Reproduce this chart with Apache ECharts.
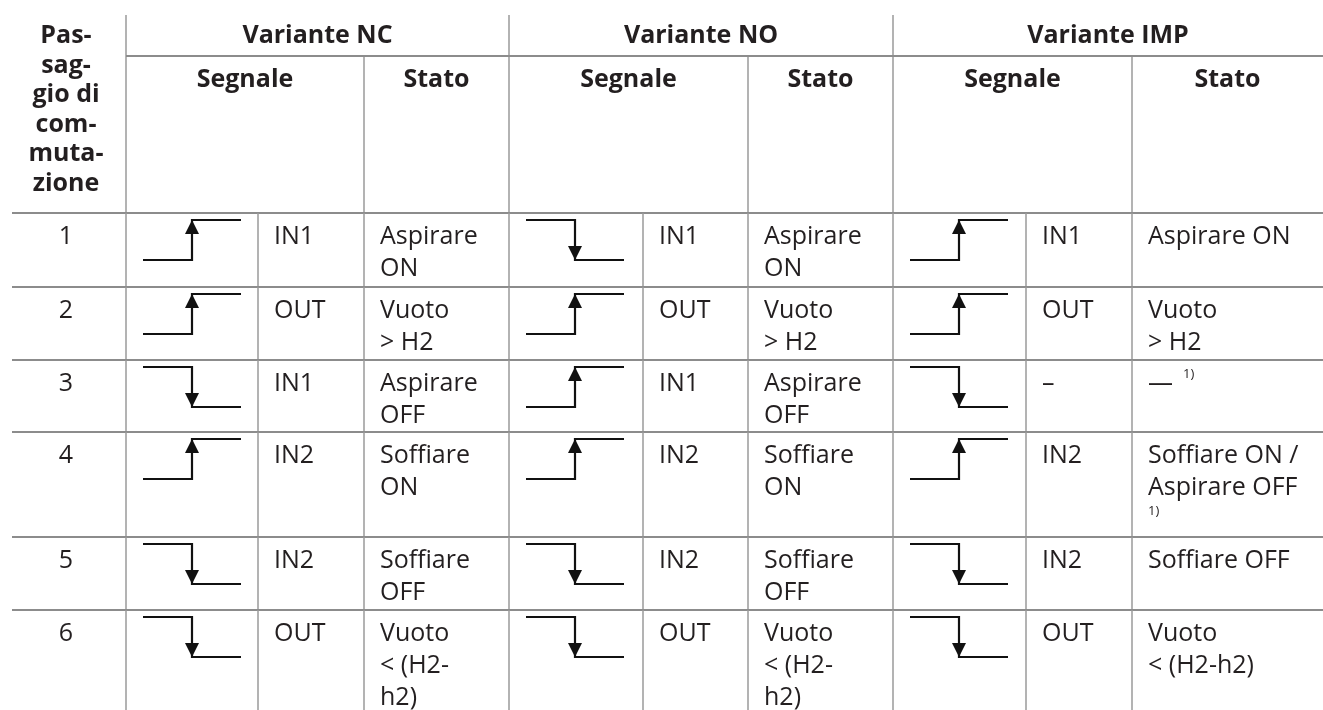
<!DOCTYPE html>
<html><head><meta charset="utf-8">
<script src="https://cdn.jsdelivr.net/npm/echarts@6/dist/echarts.min.js"></script>
<style>html,body{margin:0;padding:0;background:#fff}#c{width:1323px;height:710px}</style>
</head><body><div id="c"></div>
<script>
// ---------- data ----------
const steps = ['1', '2', '3', '4', '5', '6'];
const stepHeader = 'Pas-\nsag-\ngio di\ncom-\nmuta-\nzione';
const variants = ['Variante NC', 'Variante NO', 'Variante IMP'];
const subHeaders = ['Segnale', 'Stato'];
const ncSignal = ['rise', 'rise', 'fall', 'rise', 'fall', 'fall'];
const ncInput = ['IN1', 'OUT', 'IN1', 'IN2', 'IN2', 'OUT'];
const ncState = ['Aspirare\nON', 'Vuoto\n> H2', 'Aspirare\nOFF', 'Soffiare\nON', 'Soffiare\nOFF', 'Vuoto\n< (H2-\nh2)'];
const noSignal = ['fall', 'rise', 'rise', 'rise', 'fall', 'fall'];
const noInput = ['IN1', 'OUT', 'IN1', 'IN2', 'IN2', 'OUT'];
const noState = ['Aspirare\nON', 'Vuoto\n> H2', 'Aspirare\nOFF', 'Soffiare\nON', 'Soffiare\nOFF', 'Vuoto\n< (H2-\nh2)'];
const impSignal = ['rise', 'rise', 'fall', 'rise', 'fall', 'fall'];
const impInput = ['IN1', 'OUT', '–', 'IN2', 'IN2', 'OUT'];
const impState = ['Aspirare ON', 'Vuoto\n> H2', '—', 'Soffiare ON /\nAspirare OFF', 'Soffiare OFF', 'Vuoto\n< (H2-h2)'];
const impNote = ['', '', '1)', '1)', '', ''];

// ---------- layout ----------
const W = 1323, H = 710;
const colEdges = [[126, 258, 364, 509], [509, 643, 748, 893], [893, 1026, 1132, 1323]];
const rowTops = [213, 287, 360, 432, 537, 610];
const tableLeft = 12, headTop = 15, headMid = 56, stepCenter = 66;
const notePos = [null, null, {dx: 35, dy: 14}, {dx: 0, dy: 79}, null, null];
const FONT = '"Open Sans", "Noto Sans", sans-serif';
const TXT = '#231f20';
const LINE_H = '#8c8c8c', LINE_V = '#9a9a9a';

const signals = [ncSignal, noSignal, impSignal];
const inputs = [ncInput, noInput, impInput];
const states = [ncState, noState, impState];

function line(api, x1, y1, x2, y2, color, w) {
  const a = api.coord([x1, y1]), b = api.coord([x2, y2]);
  return {type: 'line', shape: {x1: a[0], y1: a[1], x2: b[0], y2: b[1]}, style: {stroke: color, lineWidth: w}};
}
function text(api, x, y, str, opt) {
  const p = api.coord([x, y]);
  return {type: 'text', style: Object.assign({text: str, x: p[0], y: p[1], fill: TXT,
    font: '25px ' + FONT, align: 'left', verticalAlign: 'top', lineHeight: 32}, opt || {})};
}
function glyph(api, x0, top, kind) {
  const w = 98, h = 40, mid = x0 + 49;
  const pts = kind === 'rise'
    ? [[x0, top + h], [mid, top + h], [mid, top], [x0 + w, top]]
    : [[x0, top], [mid, top], [mid, top + h], [x0 + w, top + h]];
  const arrow = kind === 'rise'
    ? [[mid, top], [mid - 7, top + 14], [mid + 7, top + 14]]
    : [[mid, top + h], [mid - 7, top + h - 14], [mid + 7, top + h - 14]];
  return [
    {type: 'polyline', shape: {points: pts.map(p => api.coord(p))}, style: {stroke: '#111', lineWidth: 2.2, fill: null}},
    {type: 'polygon', shape: {points: arrow.map(p => api.coord(p))}, style: {fill: '#111'}}
  ];
}

function renderHeader(params, api) {
  const ch = [];
  ch.push(text(api, stepCenter, 36 - 14.75, stepHeader, {font: 'bold 25px ' + FONT, align: 'center', lineHeight: 29.5}));
  variants.forEach((v, i) => {
    const e = colEdges[i];
    ch.push(text(api, (e[0] + e[3]) / 2, 36, v, {font: 'bold 25px ' + FONT, align: 'center', verticalAlign: 'middle'}));
    ch.push(text(api, (e[0] + e[2]) / 2, 79.5, subHeaders[0], {font: 'bold 25px ' + FONT, align: 'center', verticalAlign: 'middle'}));
    ch.push(text(api, (e[2] + e[3]) / 2, 79.5, subHeaders[1], {font: 'bold 25px ' + FONT, align: 'center', verticalAlign: 'middle'}));
    ch.push(line(api, e[0], headTop, e[0], rowTops[0], LINE_V, 1.5));
    ch.push(line(api, e[2], headMid, e[2], rowTops[0], LINE_V, 1.5));
  });
  ch.push(line(api, colEdges[0][0], headMid, W, headMid, LINE_H, 2));
  return {type: 'group', children: ch};
}

function renderRow(params, api) {
  const i = api.value(0);
  const top = rowTops[i];
  const bottom = i + 1 < rowTops.length ? rowTops[i + 1] : H;
  const ch = [];
  ch.push(line(api, tableLeft, top, W, top, LINE_H, 2));
  ch.push(text(api, stepCenter, top + 8, steps[i], {align: 'center'}));
  for (let v = 0; v < 3; v++) {
    const e = colEdges[v];
    ch.push(line(api, e[0], top, e[0], bottom, LINE_V, 1.5));
    ch.push(line(api, e[1], top, e[1], bottom, LINE_V, 1.5));
    ch.push(line(api, e[2], top, e[2], bottom, LINE_V, 1.5));
    glyph(api, e[0] + 17, top + 7, signals[v][i]).forEach(g => ch.push(g));
    ch.push(text(api, e[1] + 16, top + 8, inputs[v][i]));
    ch.push(text(api, e[2] + 16, top + 8, states[v][i]));
    if (v === 2 && impNote[i]) {
      const np = notePos[i];
      ch.push(text(api, e[2] + 16 + np.dx, top + np.dy, impNote[i], {font: '13px ' + FONT, verticalAlign: 'middle', lineHeight: 14}));
    }
  }
  return {type: 'group', children: ch};
}

const chart = echarts.init(document.getElementById('c'), null, {renderer: 'canvas'});
chart.setOption({
  animation: false,
  backgroundColor: '#fff',
  grid: {left: 0, right: 0, top: 0, bottom: 0},
  xAxis: {type: 'value', min: 0, max: W, show: false},
  yAxis: {type: 'value', min: 0, max: H, inverse: true, show: false},
  series: [
    {type: 'custom', renderItem: renderHeader, data: [[0]], silent: true, clip: false},
    {type: 'custom', renderItem: renderRow, data: steps.map((s, i) => [i]), silent: true, clip: false}
  ]
});
</script>
</body></html>
